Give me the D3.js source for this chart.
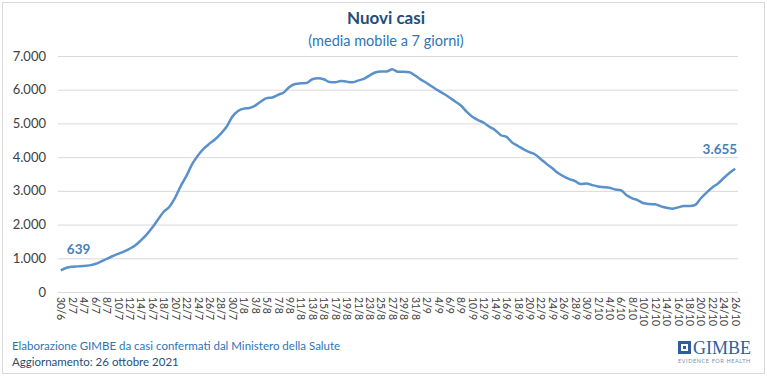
<!DOCTYPE html>
<html>
<head>
<meta charset="utf-8">
<script src="https://cdn.jsdelivr.net/npm/d3@7"></script>
<style>
  body { margin: 0; background: #fff; }
  svg { font-family: Lato, "Open Sans", sans-serif; }
</style>
</head>
<body>
<svg id="chart" width="767" height="376"></svg>
<script>
// 7-day moving average of new cases, daily from 30/6 to 26/10 2021
const startDate = new Date(2021, 5, 30);
const casesValues = [
  639, 720, 750, 760, 770, 790, 830, 900, 980, 1060,
  1130, 1200, 1280, 1380, 1530, 1700, 1910, 2150, 2380, 2530,
  2800, 3150, 3450, 3800, 4050, 4250, 4400, 4530, 4700, 4900,
  5200, 5370, 5440, 5460, 5530, 5650, 5750, 5770, 5850, 5920,
  6080, 6170, 6190, 6200, 6310, 6340, 6310, 6230, 6220, 6260,
  6240, 6220, 6270, 6320, 6420, 6510, 6540, 6540, 6610, 6530,
  6530, 6520, 6420, 6300, 6200, 6090, 5980, 5880, 5770, 5650,
  5530, 5350, 5200, 5100, 5020, 4900, 4800, 4650, 4600, 4430,
  4330, 4230, 4150, 4080, 3940, 3800, 3670, 3530, 3430, 3350,
  3290, 3200, 3220, 3170, 3130, 3110, 3090, 3040, 3020, 2870,
  2780, 2720, 2630, 2610, 2600, 2540, 2500, 2470, 2510, 2550,
  2550, 2580, 2780, 2950, 3100, 3220, 3380, 3530, 3655
];
const yTicks = [0, 1000, 2000, 3000, 4000, 5000, 6000, 7000];

const dates = casesValues.map((v, i) => d3.timeDay.offset(startDate, i));
const dateLabel = d => `${d.getDate()}/${d.getMonth() + 1}`;
const itFormat = d3.formatLocale({decimal: ",", thousands: ".", grouping: [3], currency: ["€", ""]}).format(",d");

const svg = d3.select("#chart");
const margin = {left: 58, right: 29, top: 56, bottom: 84};
const W = 767, H = 376;

svg.append("rect").attr("x", 2.5).attr("y", 2.5).attr("width", W - 5).attr("height", H - 5)
  .attr("fill", "#fff").attr("stroke", "#d9d9d9");

const x = d3.scaleBand()
  .domain(dates.map((d, i) => i))
  .range([margin.left, W - margin.right]);
const y = d3.scaleLinear().domain([0, 7000]).range([H - margin.bottom, margin.top]);

// gridlines
svg.append("g").selectAll("line").data(yTicks).join("line")
  .attr("x1", margin.left).attr("x2", W - margin.right)
  .attr("y1", d => y(d) + 0.5).attr("y2", d => y(d) + 0.5)
  .attr("stroke", "#d9d9d9").attr("stroke-width", 1);

// y labels
svg.append("g").selectAll("text").data(yTicks).join("text")
  .attr("x", 46).attr("y", d => y(d) + 4.5)
  .attr("text-anchor", "end")
  .attr("font-size", 13).attr("fill", "#404040")
  .text(d => itFormat(d));

// x labels every 2 days, rotated
const cx = i => x(i) + x.bandwidth() / 2;
svg.append("g").selectAll("text")
  .data(dates.map((d, i) => i).filter(i => i % 2 === 0))
  .join("text")
  .attr("transform", i => `translate(${cx(i) - 3.5},${H - margin.bottom + 5}) rotate(90)`)
  .attr("font-size", 10.5).attr("fill", "#404040")
  .text(i => dateLabel(dates[i]));

// line
const line = d3.line().x((d, i) => cx(i)).y(d => y(d)).curve(d3.curveMonotoneX);
svg.append("path").datum(casesValues)
  .attr("d", line)
  .attr("fill", "none").attr("stroke", "#5b91cb").attr("stroke-width", 2.5)
  .attr("stroke-linejoin", "round");

// data labels
const last = casesValues.length - 1;
svg.append("text").attr("x", cx(0) + 6).attr("y", y(casesValues[0]) - 16)
  .attr("font-size", 13.5).attr("font-weight", "bold").attr("fill", "#4a7ebb")
  .text(itFormat(casesValues[0]));
svg.append("text").attr("x", cx(last) + 2).attr("y", y(casesValues[last]) - 15)
  .attr("text-anchor", "end")
  .attr("font-size", 13.5).attr("font-weight", "bold").attr("fill", "#4a7ebb")
  .text(itFormat(casesValues[last]));

// titles
svg.append("text").attr("x", 386).attr("y", 24).attr("text-anchor", "middle")
  .attr("font-size", 17).attr("font-weight", "bold").attr("fill", "#1f4e79")
  .text("Nuovi casi");
svg.append("text").attr("x", 386).attr("y", 46).attr("text-anchor", "middle")
  .attr("font-size", 14.5).attr("fill", "#2e75b6")
  .text("(media mobile a 7 giorni)");

// footer
svg.append("text").attr("x", 12).attr("y", 350)
  .attr("font-size", 11.5).attr("fill", "#2e75b6")
  .text("Elaborazione GIMBE da casi confermati dal Ministero della Salute");
svg.append("text").attr("x", 12).attr("y", 366)
  .attr("font-size", 11.5).attr("fill", "#1f4e79")
  .text("Aggiornamento: 26 ottobre 2021");

// GIMBE logo
const logo = svg.append("g").attr("transform", "translate(678,341)");
logo.append("rect").attr("x", 0).attr("y", 0).attr("width", 13).attr("height", 13).attr("fill", "#2e5f9a");
logo.append("rect").attr("x", 3).attr("y", 3).attr("width", 7).attr("height", 7).attr("fill", "#fff");
logo.append("rect").attr("x", 5).attr("y", 5).attr("width", 3).attr("height", 3).attr("fill", "#2e5f9a");
logo.append("text").attr("x", 15).attr("y", 13)
  .attr("font-family", "Liberation Serif, serif").attr("font-size", 18).attr("fill", "#2e5f9a")
  .text("GIMBE");
logo.append("text").attr("x", 0).attr("y", 22)
  .attr("font-size", 5.5).attr("fill", "#6f8fb5").attr("letter-spacing", 0.6)
  .text("EVIDENCE FOR HEALTH");
</script>
</body>
</html>
